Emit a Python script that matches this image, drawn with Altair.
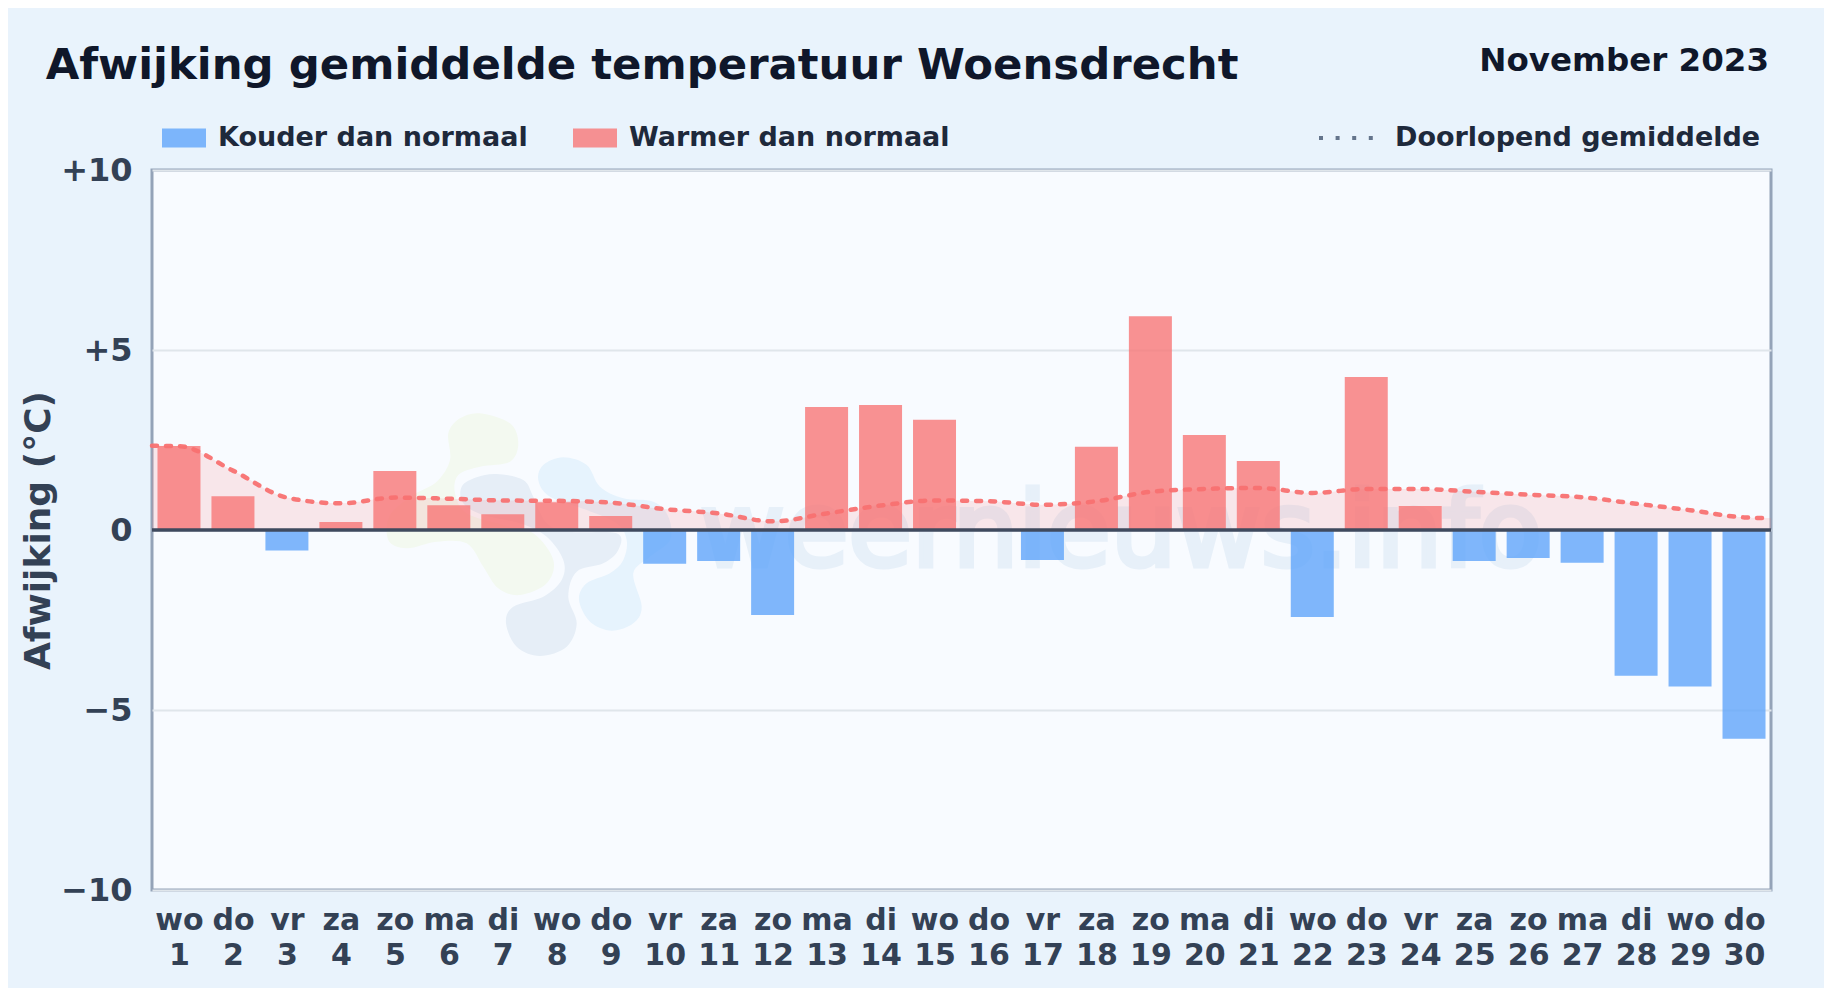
import altair as alt
import pandas as pd

days = list(range(1, 31))
weekdays = ["wo","do","vr","za","zo","ma","di"] * 4 + ["wo","do"]
deviation = [2.33,0.94,-0.57,0.22,1.64,0.69,0.44,0.77,0.39,-0.94,-0.86,-2.36,3.42,3.47,3.06,
             0.0,-0.83,2.31,5.94,2.64,1.92,-2.42,4.25,0.67,-0.86,-0.78,-0.91,-4.05,-4.35,-5.80]
rolling_x = [0.5] + days + [30.5]
rolling = [2.34,2.33,1.65,0.90,0.74,0.90,0.87,0.82,0.81,0.76,0.58,0.46,0.24,0.46,0.68,0.82,
           0.80,0.70,0.80,1.06,1.14,1.17,1.03,1.14,1.14,1.06,0.98,0.91,0.73,0.55,0.35,0.33]
y_ticks = [-10,-5,0,5,10]
COLD, WARM, ROLL = "Kouder dan normaal", "Warmer dan normaal", "Doorlopend gemiddelde"
FONT = "DejaVu Sans"

# watermark logo outlines (smoothed closed curves)
blob_green = [(330,40),(420,70),(445,130),(420,185),(330,200),(265,225),(255,280),(290,340),(400,375),(490,400),
              (550,480),(530,550),(450,585),(385,565),(340,500),(290,430),(200,425),(110,445),(55,420),(60,345),
              (130,285),(200,245),(240,180),(235,100),(270,55)]
blob_grey = [(380,222),(460,240),(490,290),(530,370),(600,395),(740,400),(745,450),(700,490),(620,515),(595,590),
             (620,670),(590,740),(510,768),(440,740),(408,670),(430,620),(520,590),(575,540),(580,480),(530,410),
             (450,370),(340,345),(280,310),(275,260),(320,232)]
blob_blue = [(580,172),(650,195),(690,260),(760,295),(850,305),(895,350),(900,420),(840,470),(790,520),(815,620),
             (790,670),(725,692),(660,665),(627,600),(650,550),(720,520),(760,480),(770,420),(740,370),(650,330),
             (540,290),(505,240),(520,195)]

def smooth(pts):
    u = [((a-450)/300, (b-405)/300) for a, b in pts]
    n = len(u)
    s = f"M{u[0][0]:.3f},{u[0][1]:.3f}"
    for i in range(n):
        p0, p1, p2, p3 = u[i-1], u[i], u[(i+1) % n], u[(i+2) % n]
        c1 = (p1[0]+(p2[0]-p0[0])/6, p1[1]+(p2[1]-p0[1])/6)
        c2 = (p2[0]-(p3[0]-p1[0])/6, p2[1]-(p3[1]-p1[1])/6)
        s += f"C{c1[0]:.3f},{c1[1]:.3f},{c2[0]:.3f},{c2[1]:.3f},{p2[0]:.3f},{p2[1]:.3f}"
    return s + "Z"

bars = pd.DataFrame({"day": days, "v": deviation})
bars = bars[bars.v != 0]
bars["kind"] = [WARM if v > 0 else COLD for v in bars.v]
roll = pd.DataFrame({"day": rolling_x, "v": rolling, "kind": ROLL})
one = pd.DataFrame({"a": [1]})

labels = [f"{w}|{d}" for w, d in zip(weekdays, days)]
x_expr = "split(" + str(labels) + "[datum.value-1],'|')"

x = alt.X("day:Q", scale=alt.Scale(domain=[0.5, 30.5], nice=False, zero=False, padding=0),
          axis=alt.Axis(values=days, title=None, grid=False, domain=False, ticks=False, labelExpr=x_expr,
                        labelFontSize=30, labelFontWeight="bold", labelColor="#334155", labelFont=FONT,
                        labelPadding=15, labelOverlap=False, labelFlush=False, labelBound=False,
                        labelLineHeight=35, labelBaseline="top"))
y = alt.Y("v:Q", scale=alt.Scale(domain=[-10, 10], nice=False),
          axis=alt.Axis(values=y_ticks, title="Afwijking (°C)", grid=True, gridColor="#e0e6eb", gridWidth=2,
                        domain=False, ticks=False,
                        labelExpr="datum.value>0?'+'+datum.value:(datum.value<0?'−'+abs(datum.value):'0')",
                        labelFontSize=32, labelFontWeight="bold", labelColor="#334155", labelFont=FONT,
                        labelPadding=20, labelOverlap=False, labelBound=False, labelFlush=False,
                        titleFontSize=36, titleFontWeight="bold", titleColor="#334155", titleFont=FONT,
                        titlePadding=3))

def blob(pts, colour):
    return alt.Chart(one).mark_point(shape=smooth(pts), size=40000, filled=True, opacity=1, fill=colour,
                                     strokeWidth=0).encode(x=alt.value(368), y=alt.value(365))

wm = alt.Chart(pd.DataFrame({"t": ["weernieuws.info"]})).mark_text(
    font=FONT, fontSize=103.5, fontWeight="normal", color="#e7f0f9", stroke="#e7f0f9", strokeWidth=5,
    align="left", baseline="alphabetic"
).encode(x=alt.value(548), y=alt.value(396), text="t:N")

area = alt.Chart(roll).mark_area(color="#f87171", opacity=0.15, interpolate="monotone").encode(
    x=x, y=y, y2=alt.datum(0))

bar = alt.Chart(bars).mark_bar(width=43, opacity=0.8).encode(
    x=x, y=y, y2=alt.datum(0),
    color=alt.Color("kind:N", scale=alt.Scale(domain=[COLD, WARM], range=["#60a5fa", "#f87777"]),
                    legend=alt.Legend(title=None, orient="none", direction="horizontal", legendX=10, legendY=-54,
                                      symbolType="M-1,-0.43H1V0.43H-1Z", symbolSize=1936, symbolStrokeWidth=0,
                                      labelFont=FONT, labelFontSize=27, labelFontWeight="bold", labelColor="#1e293b",
                                      labelOffset=12, columnPadding=45, labelLimit=500, padding=0)))

line = alt.Chart(roll).mark_line(color="#f87171", strokeWidth=4.5, strokeDash=[5, 9], strokeCap="round",
                                 interpolate="monotone", opacity=0.95).encode(x=x, y=y)

roll_key = alt.Chart(roll).mark_line(opacity=0).encode(
    x=x, y=y,
    stroke=alt.Stroke("kind:N", scale=alt.Scale(domain=[ROLL], range=["#64748b"]),
                      legend=alt.Legend(title=None, orient="none", direction="horizontal", legendX=1165, legendY=-62,
                                        symbolType="stroke", symbolSize=3136, symbolStrokeWidth=4, symbolOpacity=1,
                                        symbolDash=[4, 12.6], labelFont=FONT, labelFontSize=27,
                                        labelFontWeight="bold", labelColor="#1e293b", labelOffset=18,
                                        labelLimit=500, padding=0)))

zero = alt.Chart(one).mark_rule(color="#3f4a5e", strokeWidth=3.5).encode(y=alt.datum(0))

period = alt.Chart(pd.DataFrame({"t": ["November 2023"]})).mark_text(
    font=FONT, fontSize=32.5, fontWeight="bold", color="#0f172a", align="right", baseline="alphabetic"
).encode(x=alt.value(1617), y=alt.value(-99), text="t:N")

chart = alt.layer(blob(blob_green, "#f3f9f0"), blob(blob_grey, "#e6eef7"), blob(blob_blue, "#e6f3fd"),
                  wm, area, bar, line, roll_key, zero, period).resolve_scale(color="independent").properties(
    width=1619, height=720,
    padding={"left": 144, "top": 162, "right": 53, "bottom": 98},
    autosize=alt.AutoSizeParams(type="none"),
    background="#e9f3fc",
    title=alt.TitleParams("Afwijking gemiddelde temperatuur Woensdrecht", anchor="start", align="left", dx=25,
                          offset=0, dy=77, baseline="alphabetic", font=FONT, fontSize=43.4, fontWeight="bold", color="#0f172a"),
).configure_view(fill="#f8fbff", stroke="#94a3b8", strokeWidth=3)

chart.save("out.html", embed_options={"renderer": "svg", "actions": False})
